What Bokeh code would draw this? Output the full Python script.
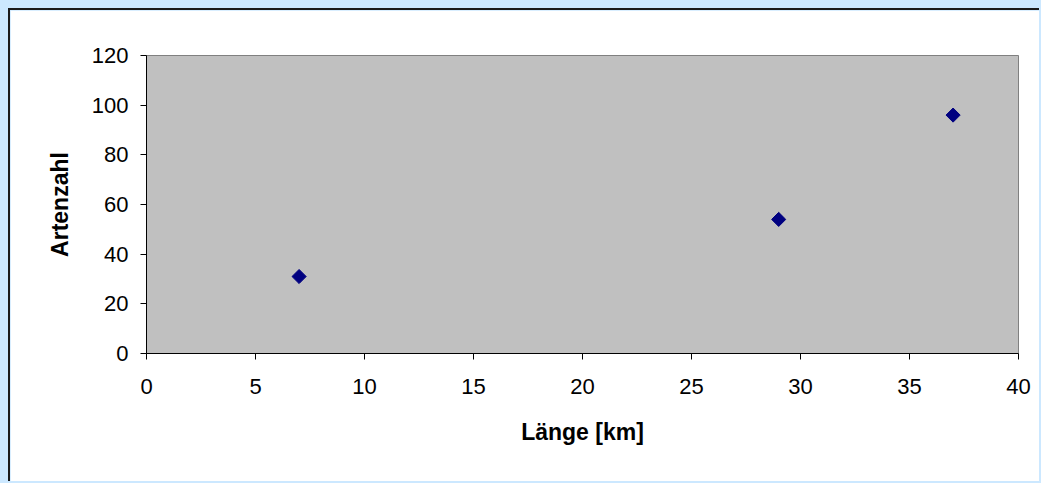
import math
from bokeh.plotting import figure
from bokeh.models import Range1d, FixedTicker
from bokeh.embed import file_html
from bokeh.resources import INLINE

laenge_km = [7, 29, 37]
artenzahl = [31, 54, 96]
x_ticks = [0, 5, 10, 15, 20, 25, 30, 35, 40]
y_ticks = [0, 20, 40, 60, 80, 100, 120]

p = figure(width=1031, height=473, output_backend="svg", toolbar_location=None,
           x_range=Range1d(0, 40), y_range=Range1d(0, 120),
           min_border_left=136, min_border_right=23, min_border_top=45, min_border_bottom=130)
p.styles = {"border-top": "2px solid #1a1a1a", "border-left": "2px solid #1a1a1a"}
p.background_fill_color = "#c0c0c0"
p.border_fill_color = "white"
p.outline_line_color = "#808080"
p.outline_line_width = 1
p.grid.visible = False

for ax in (p.xaxis, p.yaxis):
    ax.axis_line_color = "black"
    ax.major_tick_line_color = "black"
    ax.major_tick_in = 0
    ax.major_tick_out = 6
    ax.minor_tick_line_color = None
    ax.major_label_text_font = "Liberation Sans"
    ax.major_label_text_font_size = "22px"
    ax.major_label_text_color = "black"
    ax.axis_label_text_font = "Liberation Sans"
    ax.axis_label_text_font_size = "23px"
    ax.axis_label_text_font_style = "bold"
    ax.axis_label_text_color = "black"

p.xaxis.ticker = FixedTicker(ticks=x_ticks)
p.yaxis.ticker = FixedTicker(ticks=y_ticks)
p.xaxis.major_label_standoff = 19
p.yaxis.major_label_standoff = 12
p.xaxis.axis_label = "Länge [km]"
p.yaxis.axis_label = "Artenzahl"
p.xaxis.axis_label_standoff = 22
p.yaxis.axis_label_standoff = 16

p.scatter(laenge_km, artenzahl, marker="square", size=10, angle=math.pi / 4,
          fill_color="#000080", line_color="#000080")

html = file_html(p, INLINE)
extra = ('<style>html { background:#cce8ff !important; overflow:hidden !important; } '
         'body { background:#cce8ff !important; margin:0 !important; '
         'padding:8px 0 0 8px !important; '
         'box-sizing:border-box !important; overflow:hidden !important; '
         'width:1041px !important; height:483px !important; }</style></head>')
html = html.replace("</head>", extra, 1)
open("out.html", "w").write(html)
